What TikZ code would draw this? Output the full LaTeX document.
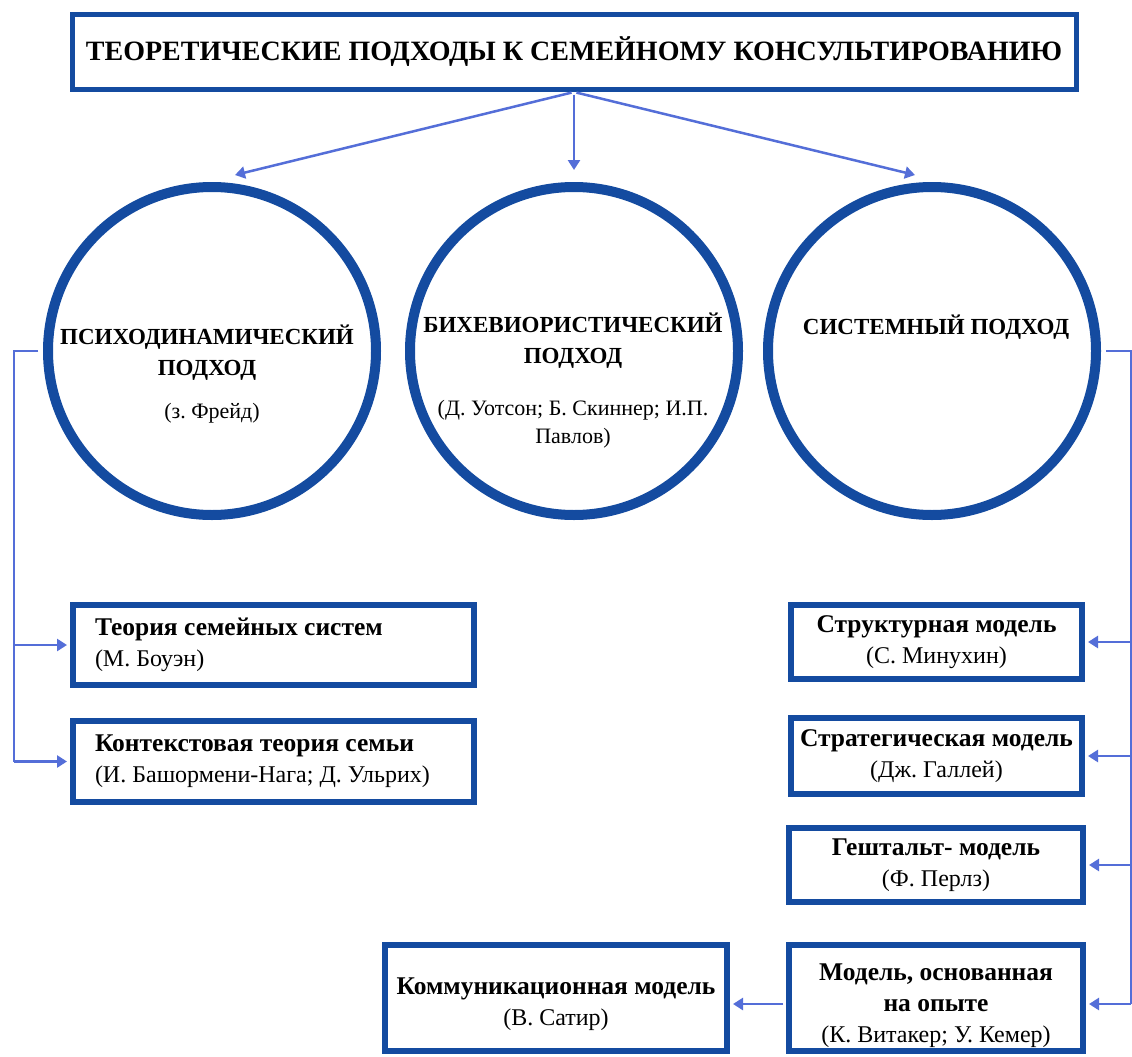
\documentclass[tikz,border=0pt]{standalone}
\usepackage{fontspec}
\setmainfont{Liberation Serif}
\usetikzlibrary{arrows.meta}
\definecolor{boxblue}{RGB}{20,75,160}
\definecolor{arrblue}{RGB}{84,110,216}
\newcommand{\bx}[1]{{\fontsize{25.5}{31}\selectfont\bfseries #1}}
\frenchspacing
\begin{document}
\begin{tikzpicture}[x=1pt,y=-1pt,
  box/.style={draw=boxblue, line width=6pt, rectangle, inner sep=0pt, align=center, fill=white,
    font=\fontsize{24}{31}\selectfont\frenchspacing},
  lbox/.style={box, align=flush left, text width=357pt, inner xsep=22pt, inner ysep=0pt},
  rbox/.style={box, minimum width=291pt},
  btxt/.style={align=center, inner sep=0pt, font=\fontsize{24}{31}\selectfont\frenchspacing},
  circ/.style={draw=boxblue, line width=10pt, circle, minimum size=328pt, inner sep=0pt},
  ctitle/.style={align=center, inner sep=0pt, font=\bfseries\fontsize{23}{31}\selectfont},
  cauth/.style={align=center, inner sep=0pt, font=\fontsize{22}{28}\selectfont\frenchspacing},
  conn/.style={draw=arrblue, line width=2.5pt},
  arr/.style={conn, -{Triangle[length=10pt,width=12pt]}},
]
\fill[white] (0,0) rectangle (1132,1057);
\useasboundingbox (0,0) rectangle (1132,1057);

% title
\node[box, line width=5pt, minimum width=1004pt, minimum height=75pt,
      font=\bfseries\fontsize{28}{32}\selectfont] (title) at (574,52)
  {ТЕОРЕТИЧЕСКИЕ ПОДХОДЫ К СЕМЕЙНОМУ КОНСУЛЬТИРОВАНИЮ};

% circles
\node[circ] (c1) at (212,351) {};
\node[circ] (c2) at (574,351) {};
\node[circ] (c3) at (932,351) {};
\node[ctitle] (c1t) at (207,352.5) {ПСИХОДИНАМИЧЕСКИЙ\\ПОДХОД};
\node[cauth] (c1a) at (212,413) {(з. Фрейд)};
\node[ctitle] (c2t) at (573,340.5) {БИХЕВИОРИСТИЧЕСКИЙ\\ПОДХОД};
\node[cauth] (c2a) at (573,424) {(Д. Уотсон; Б. Скиннер; И.П.\\Павлов)};
\node[ctitle] (c3t) at (936,327) {СИСТЕМНЫЙ ПОДХОД};

% left boxes
\node[lbox, minimum height=80pt] (b1) at (273.5,645)
  {\bx{Теория семейных систем}\\(М. Боуэн)};
\node[lbox, minimum height=81pt] (b2) at (273.5,761.5)
  {\bx{Контекстовая теория семьи}\\(И. Башормени-Нага; Д. Ульрих)};

% right boxes
\node[rbox, minimum height=74pt] (r1) at (936.5,642)
  {\bx{Структурная модель}\\(С. Минухин)};
\node[rbox, minimum height=76pt] (r2) at (936.5,756)
  {\bx{Стратегическая модель}\\(Дж. Галлей)};
\node[rbox, minimum width=294pt, minimum height=74pt] (r3) at (936,865)
  {\bx{Гештальт- модель}\\(Ф. Перлз)};
\node[rbox, minimum width=294pt, minimum height=106pt] (r4) at (936,998) {};
\node[btxt] (r4t) at (936,1006)
  {\bx{Модель, основанная}\\\bx{на опыте}\\(К. Витакер; У. Кемер)};
\node[box, minimum width=342pt, minimum height=106pt] (komm) at (556,998) {};
\node[btxt] (kommt) at (556,1004)
  {\bx{Коммуникационная модель}\\(В. Сатир)};

% connectors from title
\coordinate (t1) at (235,175);
\coordinate (t3) at (915,175);
\draw[arr, shorten <=2.5pt] (title.south) -- (t1);
\draw[arr, shorten <=2.5pt, shorten >=12pt] (title.south) -- (c2.north);
\draw[arr, shorten <=2.5pt] (title.south) -- (t3);

% left branch
\coordinate (lx) at (14,0);
\draw[conn, shorten <=5pt] (c1.west) -| (lx |- b2.west);
\draw[arr, shorten >=3pt] (lx |- b1.west) -- (b1.west);
\draw[arr, shorten >=3pt] (lx |- b2.west) -- (b2.west);

% right branch
\coordinate (rx) at (1131,0);
\draw[conn, shorten <=5pt] (c3.east) -| (rx |- kommt);
\draw[arr, shorten >=3pt] (rx |- r1.east) -- (r1.east);
\draw[arr, shorten >=3pt] (rx |- r2.east) -- (r2.east);
\draw[arr, shorten >=3pt] (rx |- r3.east) -- (r3.east);
\draw[arr, shorten >=3pt] (rx |- kommt) -- (r4.east |- kommt);
\draw[arr, shorten <=3pt, shorten >=3pt] (r4.west |- kommt) -- (komm.east |- kommt);
\end{tikzpicture}
\end{document}
